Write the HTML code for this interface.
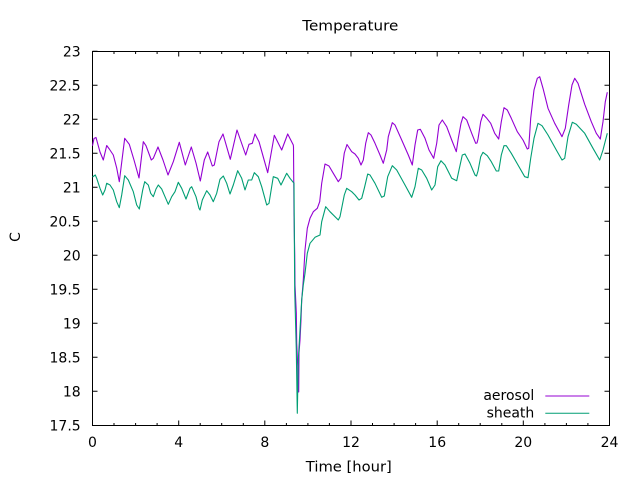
<!DOCTYPE html>
<html><head><meta charset="utf-8"><style>
html,body{margin:0;padding:0;background:#fff;}
svg{display:block;}
text{font-family:"DejaVu Sans","Liberation Sans",sans-serif;font-size:14px;fill:#000;}
</style></head><body>
<svg width="640" height="480" viewBox="0 0 640 480" xmlns="http://www.w3.org/2000/svg">
<rect width="640" height="480" fill="#fff"/>
<g stroke="#000" stroke-width="1" fill="none">
<path d="M92.5,51.5V425.5H609.5V51.5Z"/>
<path d="M92.5,51.3h5M92.5,85.3h5M92.5,119.3h5M92.5,153.3h5M92.5,187.3h5M92.5,221.3h5M92.5,255.3h5M92.5,289.3h5M92.5,323.3h5M92.5,357.3h5M92.5,391.3h5
M609.5,85.3h-5M609.5,119.3h-5M609.5,153.3h-5M609.5,187.3h-5M609.5,221.3h-5M609.5,255.3h-5M609.5,289.3h-5M609.5,323.3h-5M609.5,357.3h-5M609.5,391.3h-5"/>
<path d="M178.7,425.5v-5M264.8,425.5v-5M351,425.5v-5M437.2,425.5v-5M523.3,425.5v-5
M178.7,51.5v5M264.8,51.5v5M351,51.5v5M437.2,51.5v5M523.3,51.5v5
M114,425.5v-2.5M135.6,425.5v-2.5M157.1,425.5v-2.5M200.2,425.5v-2.5M221.7,425.5v-2.5M243.3,425.5v-2.5M286.4,425.5v-2.5M307.9,425.5v-2.5M329.4,425.5v-2.5M372.5,425.5v-2.5M394.1,425.5v-2.5M415.6,425.5v-2.5M458.7,425.5v-2.5M480.2,425.5v-2.5M501.8,425.5v-2.5M544.9,425.5v-2.5M566.4,425.5v-2.5M587.9,425.5v-2.5
M114,51.5v2.5M135.6,51.5v2.5M157.1,51.5v2.5M200.2,51.5v2.5M221.7,51.5v2.5M243.3,51.5v2.5M286.4,51.5v2.5M307.9,51.5v2.5M329.4,51.5v2.5M372.5,51.5v2.5M394.1,51.5v2.5M415.6,51.5v2.5M458.7,51.5v2.5M480.2,51.5v2.5M501.8,51.5v2.5M544.9,51.5v2.5M566.4,51.5v2.5M587.9,51.5v2.5"/>
</g>
<g text-anchor="end">
<text x="80.7" y="56.3">23</text>
<text x="80.7" y="90.3">22.5</text>
<text x="80.7" y="124.3">22</text>
<text x="80.7" y="158.3">21.5</text>
<text x="80.7" y="192.3">21</text>
<text x="80.7" y="226.3">20.5</text>
<text x="80.7" y="260.3">20</text>
<text x="80.7" y="294.3">19.5</text>
<text x="80.7" y="328.3">19</text>
<text x="80.7" y="362.3">18.5</text>
<text x="80.7" y="396.3">18</text>
<text x="80.7" y="430.3">17.5</text>
</g>
<g text-anchor="middle">
<text x="92.5" y="447">0</text>
<text x="178.7" y="447">4</text>
<text x="264.8" y="447">8</text>
<text x="351" y="447">12</text>
<text x="437.2" y="447">16</text>
<text x="523.3" y="447">20</text>
<text x="609.5" y="447">24</text>
<text x="350.3" y="30.7" textLength="96" lengthAdjust="spacingAndGlyphs">Temperature</text>
<text x="348.8" y="471.7" textLength="86" lengthAdjust="spacingAndGlyphs">Time [hour]</text>
<text x="20" y="237" transform="rotate(-90 20 237)">C</text>
</g>
<g text-anchor="end">
<text x="534.3" y="400">aerosol</text>
<text x="534.3" y="417.3">sheath</text>
</g>
<line x1="545.3" y1="396" x2="589.3" y2="396" stroke="#9400d3" stroke-width="1"/>
<line x1="545.3" y1="413.3" x2="589.3" y2="413.3" stroke="#009e73" stroke-width="1"/>
<polyline fill="none" stroke="#9400d3" stroke-width="1.1" stroke-linejoin="round" points="92.5,145.7 94,138.5 96,137.5 100,152 103.3,160 106.7,145.5 109.3,149 113.3,155 116.7,168 119.3,181.7 124.7,138.3 129.3,144.3 134,160 139,178 143.3,141.7 146,145.7 151.3,160 153.3,158.3 158,147 163,160 168,175 173.3,161.7 179.3,142.3 185.3,165 191.3,147 196,163 200.3,181 204.3,160 207.7,152 212.3,166 214.3,165 219,141.7 223,134 230.3,159.3 237,130 245.7,155 249,144.3 252.3,143.3 255,134 259,141.7 267.7,172.7 274.3,135.3 281.7,150 287.7,134 293.3,145 293.5,147 294,215 294.7,253 295,285 296.3,313 296.7,343 297.7,366 297.7,390 298.7,392 299,353 300,340 301,320 301.7,300 303.3,280 305,250 307.3,228.3 310,218.3 313.3,211.7 317.3,208.3 319.7,201.7 321.7,183.3 325,164 329,166 333.3,173.3 338.3,181.7 341,178 344.3,153 347,144.5 351.7,151.7 355,154 358.3,158.3 361,165 363.3,160 365.7,143.3 368.3,132.7 371,135 375,143.3 380,155 383.3,163.3 386.7,150 388.3,136.7 392.3,122.7 395,125 401.7,140 408.3,155 412.3,165 415,145 417.7,130 420.3,129.3 425,138.3 429,150 433.7,158.3 436.7,143.3 439,125 442.3,120 446.7,126.7 451.7,140 456.3,151.7 458.3,138.3 461,123.3 463,116.7 466.7,120 471.7,133.3 475.7,143.3 477,143 478,139 480.7,121.7 483,114.3 486.3,117.7 490.7,123.3 494.7,133.3 498.7,139 501.3,121.7 504,107.7 507.3,110 511.3,118.3 517.3,131.7 523,140 527.3,149 528.7,148.3 530.7,118.3 534,90 537.3,78.3 539.7,76.7 543,88.3 548,108.3 554.7,123.3 562,136.7 565.3,128.3 568.7,105 572,85 574.7,78.3 578,83.3 584.7,104.3 591.3,121.7 596.3,133.3 600.3,139 603,121.7 605.3,101.7 607.3,92.3"/>
<polyline fill="none" stroke="#009e73" stroke-width="1.1" stroke-linejoin="round" points="92.5,177 95.3,175 96.7,178.3 100,188.3 102.7,195 105,190 106.7,183.3 110,185 113.3,190 116.7,201.7 119.3,207.7 121.7,195 124.7,175.7 128.3,180 133.3,191.7 136.7,205 139.3,209 142.7,190 144.7,181.7 148.3,185 150.7,193.3 153.3,196.7 156,189 158.3,185 161.7,189 165,196.7 168.3,204.3 171.7,196.7 175,191.7 178.3,182.3 181.7,188.3 186,199 190,188.3 191.7,186.7 196,196.7 199,208.3 200,210 202.3,200 206.7,190.7 210,195 213.3,201.7 216.7,193.3 220,179.3 223.3,176 226.7,183.3 230,194 233.3,185 237.7,170.7 241.7,178.3 245,190 248.3,180 251.7,180 254.3,172.7 258.3,176.7 261.7,186.7 266.7,205 269,203.3 273.3,176.7 277.7,178.3 281,185 286.7,173.3 290,178.3 292.7,181.7 294,183 294.7,290 296.3,350 297.3,413.3 298.3,360 300,330 301.7,300 303.3,285 305,273.3 307.3,253.3 310,243.3 315,237.3 320,235 321.7,221.7 325.7,206.7 330,211.7 338.3,220 340,216.7 344.3,195 346.7,188.3 351.7,191.7 355,195 359,200 361.7,198.3 364.3,188.3 367.7,174 370,175 375,183.3 381.7,197.3 384.3,196 387.7,176.7 392.3,165.7 396.7,170 405,185 411.7,197.3 415,186.7 418.3,168.3 421.7,170 426.7,178.3 431.7,190 435,185 437.7,166.7 441,160.7 445,165 451.7,178.3 456.7,180.7 459,170 462.3,155 465,154 470,163.3 475,175 476.5,176 478,171 480.7,156.7 483,152.3 487.3,155.7 491.3,161.7 496.3,171 498.7,171 501.3,155 504,145.7 506.3,145.7 511.3,153.3 518,165 524.7,176.7 528,177.7 530.7,158.3 534,138.3 538,123.3 542,125.7 548,135 556.3,150 562,160 564.7,158.3 568,136.7 572.3,122.3 576.3,124.3 584.7,133.3 593,148.3 599.7,160 603,150 607.3,133.3"/>
</svg>
</body></html>
